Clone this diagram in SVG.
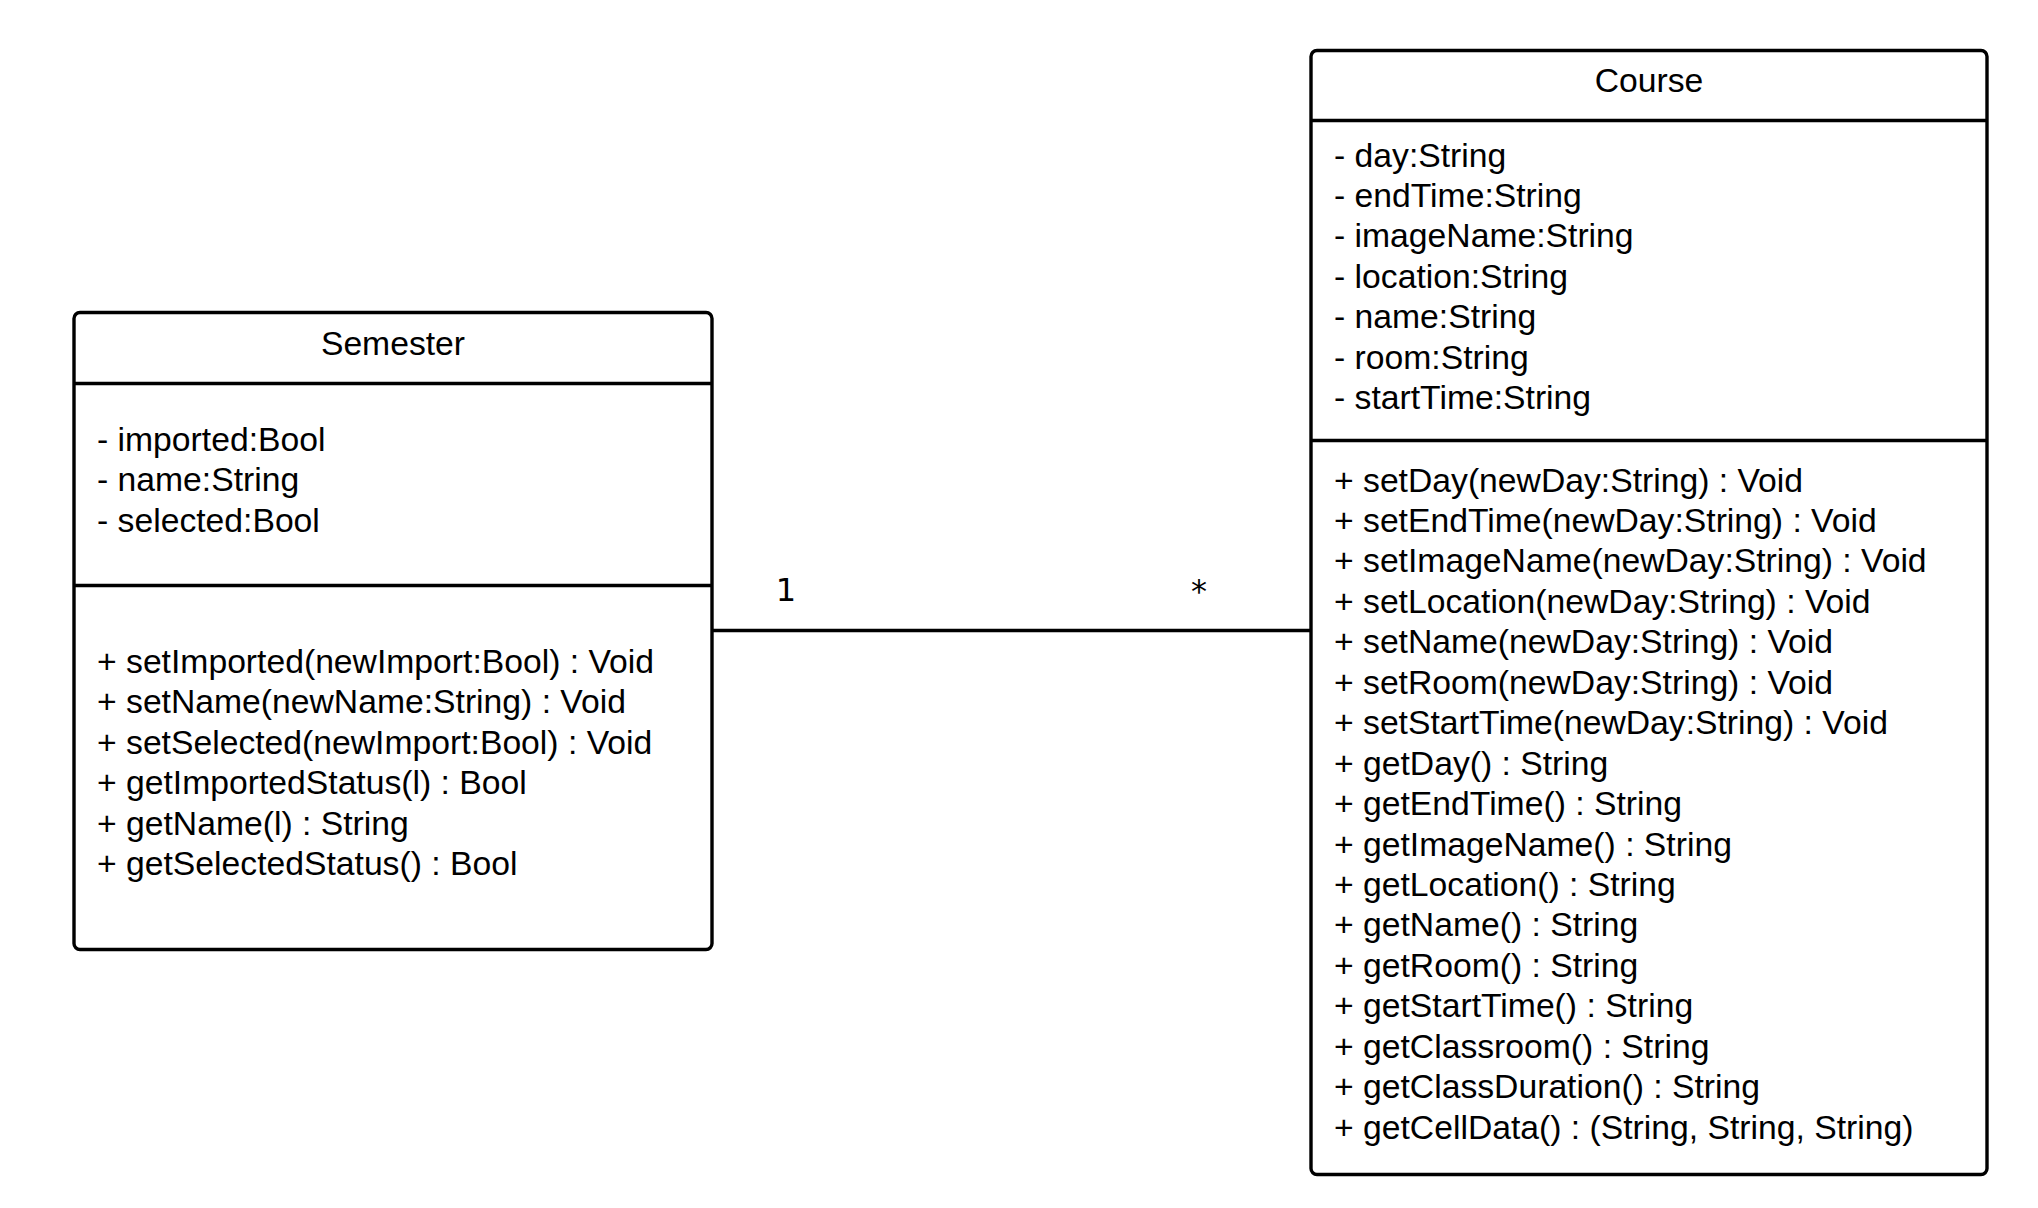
<svg xmlns="http://www.w3.org/2000/svg" width="2038" height="1208" viewBox="0 0 2038 1208">
  <style>
    .box { fill: #ffffff; stroke: #000000; stroke-width: 3.4; }
    .sep { stroke: #000000; stroke-width: 3.4; fill: none; }
    .txt { font-family: "Liberation Sans", Arial, sans-serif; font-size: 33.7px; fill: #000000; }
    .title { text-anchor: middle; }
    .mult { font-family: "DejaVu Sans", sans-serif; font-size: 32px; fill: #000000; text-anchor: middle; }
    .edge { stroke: #000000; stroke-width: 3.4; fill: none; }
  </style>
  <rect width="2038" height="1208" fill="#ffffff"/>

  <!-- association between the two classes -->
  <g id="connectors">
    <line class="edge" x1="712" y1="630.5" x2="1311" y2="630.5"/>
    <text class="mult" x="786" y="601">1</text>
    <text class="mult" x="1199" y="602">*</text>
  </g>

  <!-- Semester class -->
  <g id="semester">
    <rect class="box" x="74" y="312.5" width="638" height="637" rx="6" ry="6"/>
    <line class="sep" x1="74" y1="383.5" x2="712" y2="383.5"/>
    <line class="sep" x1="74" y1="585.5" x2="712" y2="585.5"/>
    <text class="txt title" x="393" y="355">Semester</text>
    <text class="txt" x="97">
      <tspan x="97" y="451">- imported:Bool</tspan>
      <tspan x="97" y="491.4">- name:String</tspan>
      <tspan x="97" y="531.8">- selected:Bool</tspan>
    </text>
    <text class="txt" x="97">
      <tspan x="97" y="673">+ setImported(newImport:Bool) : Void</tspan>
      <tspan x="97" y="713.4">+ setName(newName:String) : Void</tspan>
      <tspan x="97" y="753.8">+ setSelected(newImport:Bool) : Void</tspan>
      <tspan x="97" y="794.2">+ getImportedStatus(l) : Bool</tspan>
      <tspan x="97" y="834.6">+ getName(l) : String</tspan>
      <tspan x="97" y="875">+ getSelectedStatus() : Bool</tspan>
    </text>
  </g>

  <!-- Course class -->
  <g id="course">
    <rect class="box" x="1311" y="50.5" width="676" height="1124" rx="6" ry="6"/>
    <line class="sep" x1="1311" y1="120.5" x2="1987" y2="120.5"/>
    <line class="sep" x1="1311" y1="440.5" x2="1987" y2="440.5"/>
    <text class="txt title" x="1649" y="92">Course</text>
    <text class="txt" x="1334">
      <tspan x="1334" y="166.5">- day:String</tspan>
      <tspan x="1334" y="206.9">- endTime:String</tspan>
      <tspan x="1334" y="247.3">- imageName:String</tspan>
      <tspan x="1334" y="287.7">- location:String</tspan>
      <tspan x="1334" y="328.1">- name:String</tspan>
      <tspan x="1334" y="368.5">- room:String</tspan>
      <tspan x="1334" y="408.9">- startTime:String</tspan>
    </text>
    <text class="txt" x="1334">
      <tspan x="1334" y="491.5">+ setDay(newDay:String) : Void</tspan>
      <tspan x="1334" y="531.9">+ setEndTime(newDay:String) : Void</tspan>
      <tspan x="1334" y="572.4">+ setImageName(newDay:String) : Void</tspan>
      <tspan x="1334" y="612.8">+ setLocation(newDay:String) : Void</tspan>
      <tspan x="1334" y="653.3">+ setName(newDay:String) : Void</tspan>
      <tspan x="1334" y="693.7">+ setRoom(newDay:String) : Void</tspan>
      <tspan x="1334" y="734.2">+ setStartTime(newDay:String) : Void</tspan>
      <tspan x="1334" y="774.6">+ getDay() : String</tspan>
      <tspan x="1334" y="815.1">+ getEndTime() : String</tspan>
      <tspan x="1334" y="855.5">+ getImageName() : String</tspan>
      <tspan x="1334" y="896">+ getLocation() : String</tspan>
      <tspan x="1334" y="936.4">+ getName() : String</tspan>
      <tspan x="1334" y="976.9">+ getRoom() : String</tspan>
      <tspan x="1334" y="1017.3">+ getStartTime() : String</tspan>
      <tspan x="1334" y="1057.8">+ getClassroom() : String</tspan>
      <tspan x="1334" y="1098.2">+ getClassDuration() : String</tspan>
      <tspan x="1334" y="1138.7">+ getCellData() : (String, String, String)</tspan>
    </text>
  </g>
</svg>
